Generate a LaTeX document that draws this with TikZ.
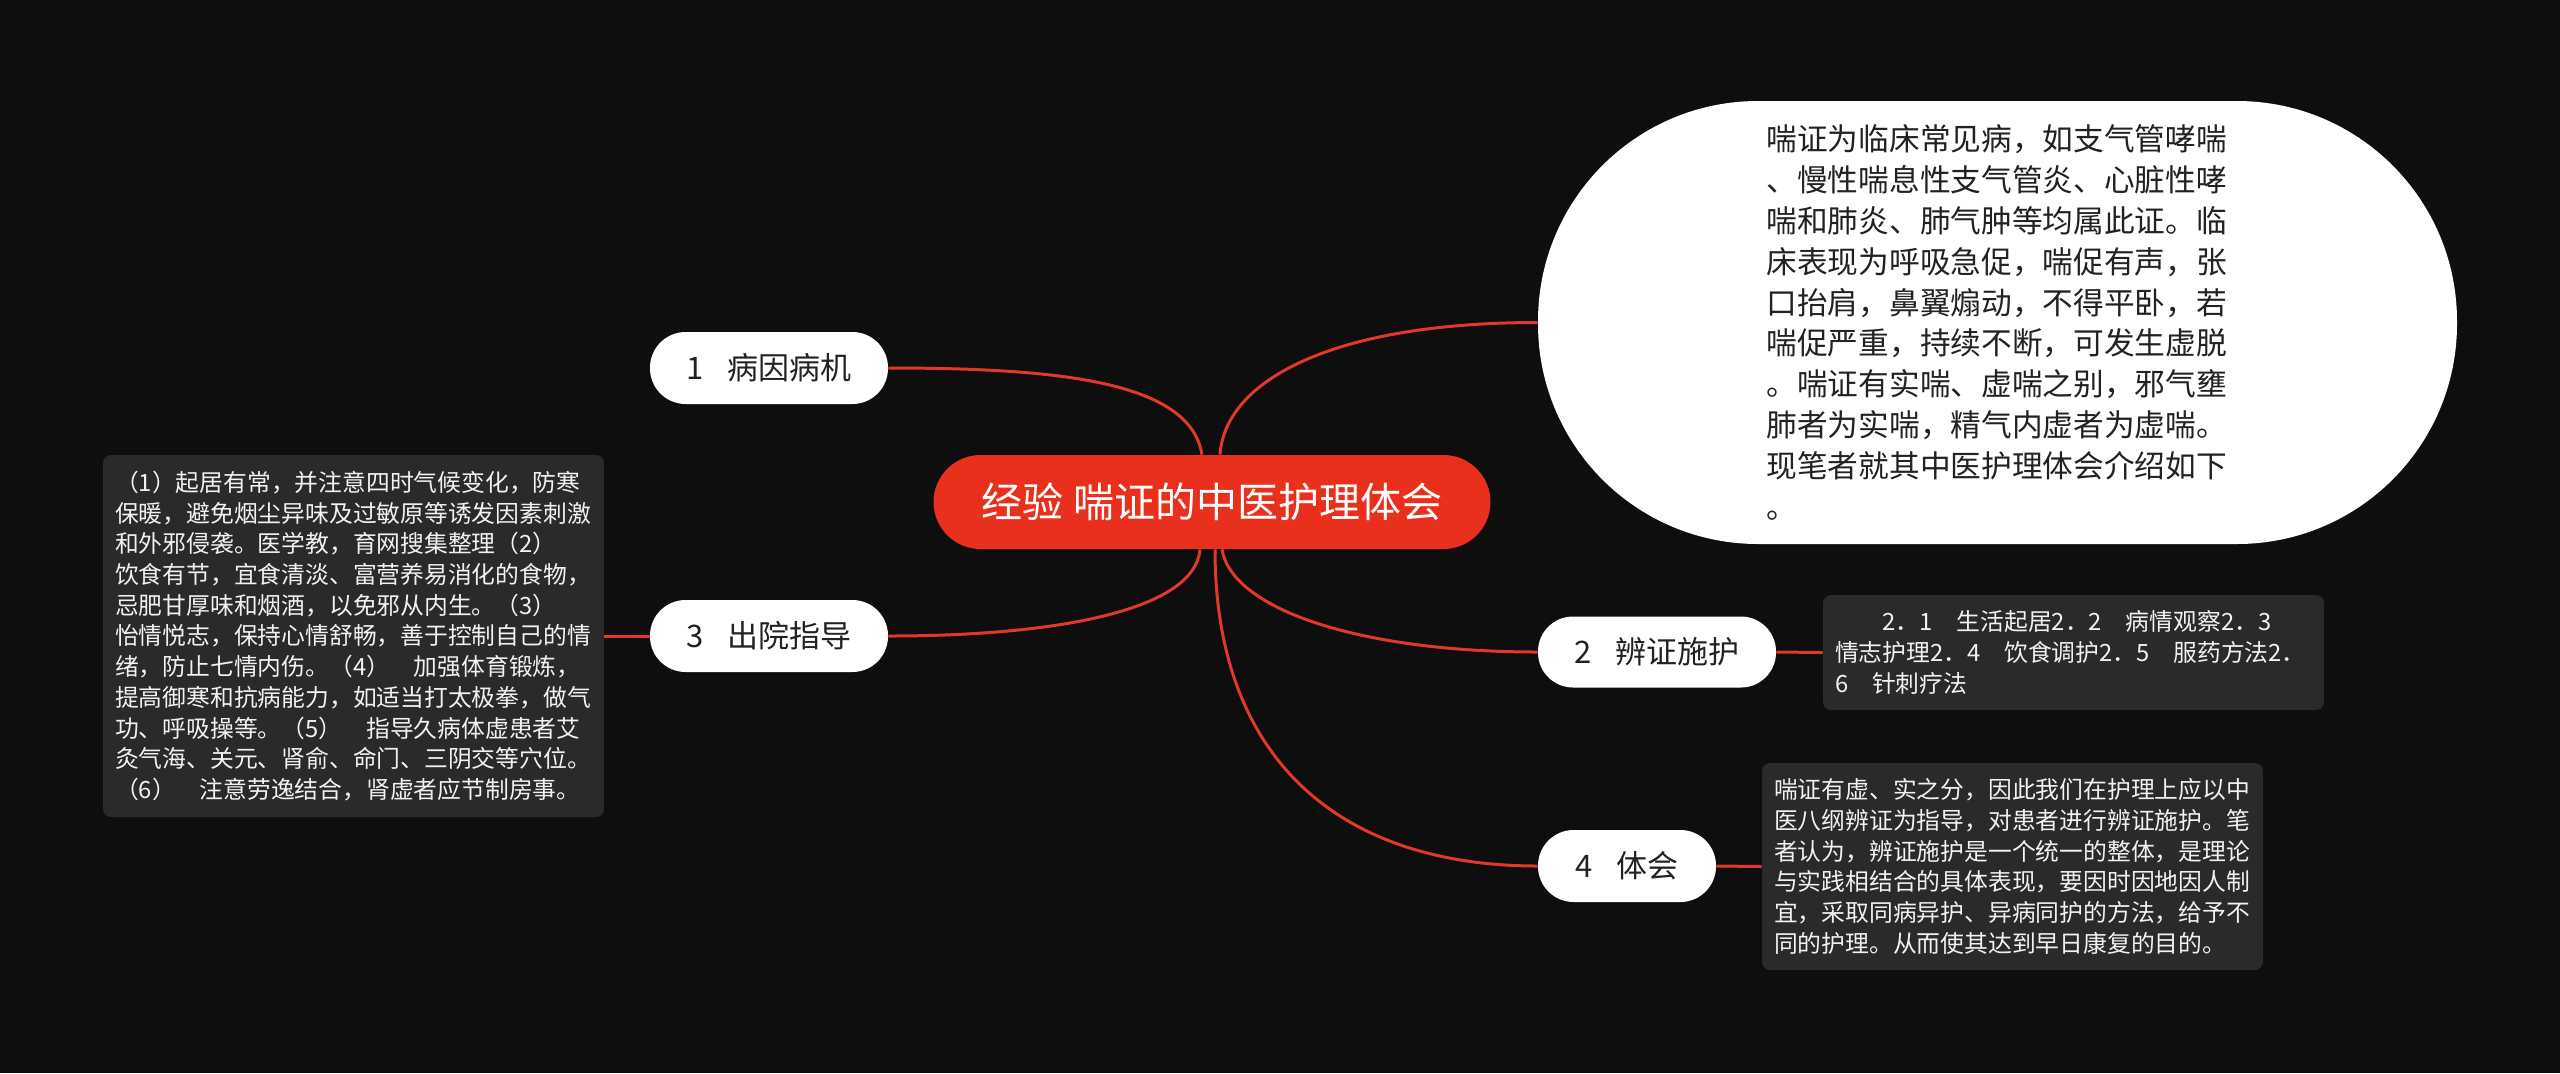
\documentclass[tikz,border=0pt]{standalone}
\usepackage{fontspec}
\setmainfont{Noto Sans CJK SC}
\definecolor{bgcol}{HTML}{0E0E0E}
\definecolor{redfill}{HTML}{E8301C}
\definecolor{linecol}{HTML}{E0382A}
\definecolor{boxfill}{HTML}{2A2A2A}
\definecolor{nodetext}{HTML}{222222}
\definecolor{boxtext}{HTML}{F2F2F2}
\begin{document}
\begin{tikzpicture}[x=0.5pt,y=-0.5pt,
  pill/.style={fill=white, text=nodetext, inner sep=0pt, font=\fontsize{15.5}{18}\selectfont},
  rootnode/.style={fill=redfill, text=white, inner sep=0pt, rounded corners=23.5pt,
     minimum width=278.5pt, minimum height=47pt, font=\fontsize{20.5}{24}\selectfont},
  dbox/.style={fill=boxfill, text=boxtext, rounded corners=4pt, align=left,
     inner xsep=6pt, inner ysep=0pt, text width=238.5pt, minimum width=250.5pt,
     font=\fontsize{11.9}{15.35}\selectfont},
  conn/.style={draw=linecol, line width=1.5pt}]
\fill[bgcol] (0,0) rectangle (2560,1073);
\useasboundingbox (0,0) rectangle (2560,1073);

% central
\node[rootnode] (c) at (1212,502) {经验 喘证的中医护理体会};

% branches
\node[pill, minimum width=119pt, minimum height=36pt, rounded corners=17.8pt] (n1) at (769,368) {1\hspace{12pt}病因病机};
\node[pill, minimum width=119pt, minimum height=36pt, rounded corners=17.8pt] (n3) at (769,636) {3\hspace{12pt}出院指导};
\node[pill, minimum width=119pt, minimum height=35.5pt, rounded corners=17.5pt] (n2) at (1657,652) {2\hspace{12pt}辨证施护};
\node[pill, minimum width=89pt, minimum height=36pt, rounded corners=17.8pt] (n4) at (1627,866) {4\hspace{12pt}体会};

% big white node
\node[pill, minimum width=459.5pt, minimum height=221.5pt, rounded corners=110pt,
      text width=231pt, align=left, font=\fontsize{15.35}{20.4}\selectfont] (big) at (1997.5,322.5)
{喘证为临床常见病，如支气管哮喘\\
、慢性喘息性支气管炎、心脏性哮\\
喘和肺炎、肺气肿等均属此证。临\\
床表现为呼吸急促，喘促有声，张\\
口抬肩，鼻翼煽动，不得平卧，若\\
喘促严重，持续不断，可发生虚脱\\
。喘证有实喘、虚喘之别，邪气壅\\
肺者为实喘，精气内虚者为虚喘。\\
现笔者就其中医护理体会介绍如下\\
。};

% detail boxes
\node[dbox, minimum height=181pt] (b3) at (353.5,636)
{（1）起居有常，并注意四时气候变化，防寒\\
保暖，避免烟尘异味及过敏原等诱发因素刺激\\
和外邪侵袭。医学教，育网搜集整理（2）\\
饮食有节，宜食清淡、富营养易消化的食物，\\
忌肥甘厚味和烟酒，以免邪从内生。（3）\\
怡情悦志，保持心情舒畅，善于控制自己的情\\
绪，防止七情内伤。（4）　加强体育锻炼，\\
提高御寒和抗病能力，如适当打太极拳，做气\\
功、呼吸操等。（5）　指导久病体虚患者艾\\
灸气海、关元、肾俞、命门、三阴交等穴位。\\
（6）　注意劳逸结合，肾虚者应节制房事。};

\node[dbox, minimum height=57.5pt] (b2) at (2073.5,652.5)
{　　2．1　生活起居2．2　病情观察2．3\\
情志护理2．4　饮食调护2．5　服药方法2．\\
6　针刺疗法};

\node[dbox, minimum height=103.5pt] (b4) at (2012.5,866.5)
{喘证有虚、实之分，因此我们在护理上应以中\\
医八纲辨证为指导，对患者进行辨证施护。笔\\
者认为，辨证施护是一个统一的整体，是理论\\
与实践相结合的具体表现，要因时因地因人制\\
宜，采取同病异护、异病同护的方法，给予不\\
同的护理。从而使其达到早日康复的目的。};

% connectors
\draw[conn] ([xshift=-5pt]c.north) .. controls +(-12,-73) and +(172,0) .. (n1.east);
\draw[conn] ([xshift=4pt]c.north) .. controls +(5,-73) and +(-208,0) .. (big.west);
\draw[conn] ([xshift=-6pt]c.south) .. controls +(-5,60) and +(172,0) .. (n3.east);
\draw[conn] ([xshift=5pt]c.south) .. controls +(10,60) and +(-178,0) .. (n2.west);
\draw[conn] ([xshift=1.5pt]c.south) .. controls +(0,210) and +(-198,0) .. (n4.west);
\draw[conn] (n3.west) -- (b3.east);
\draw[conn] (n2.east) -- (b2.west);
\draw[conn] (n4.east) -- (b4.west);
\end{tikzpicture}
\end{document}
